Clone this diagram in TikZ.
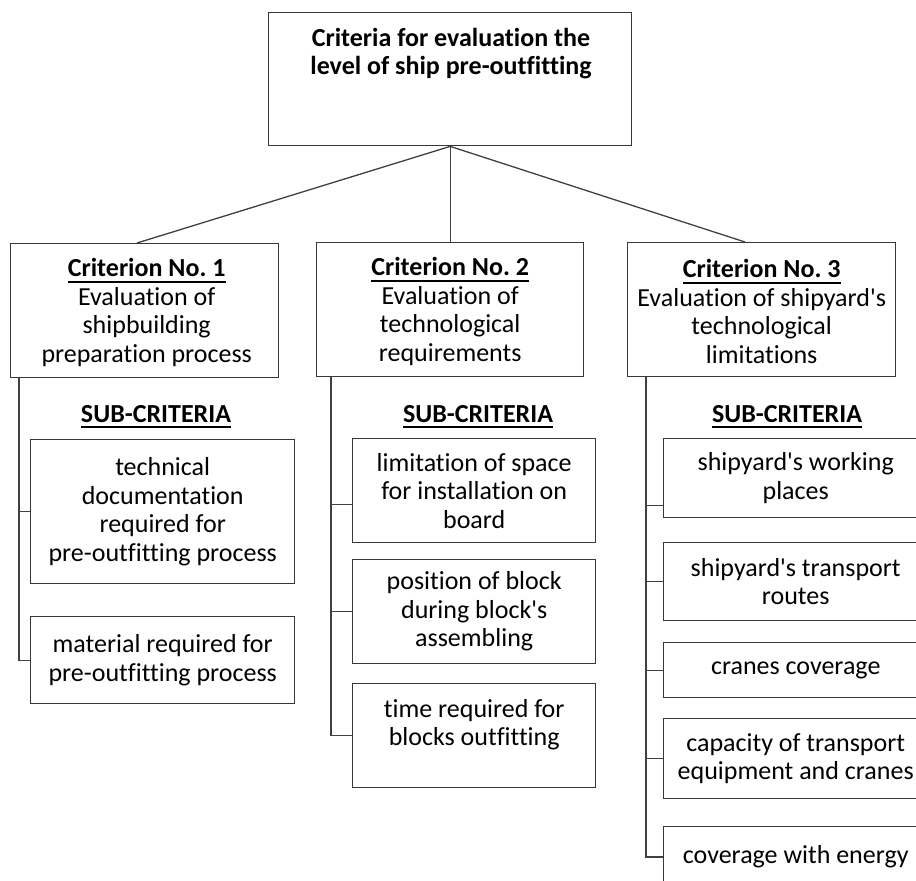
\documentclass[tikz,border=0pt]{standalone}
\usepackage{fontspec}
\setmainfont{Carlito}[Ligatures={NoCommon}, RawFeature={-liga;-clig;-dlig}]
\usetikzlibrary{calc}
\definecolor{boxcol}{HTML}{383838}
\definecolor{linecol}{HTML}{404040}
\newcommand\myul[1]{\leavevmode\vtop{\hbox{#1}\kern 4.2pt\hrule height 1.3pt}}
\newcommand\ap{\textquotesingle}
\frenchspacing
\begin{document}
\begin{tikzpicture}[x=1pt,y=-1pt,
  box/.style={draw=boxcol, line width=1.4pt, rectangle, inner sep=0pt, anchor=north west},
  txt/.style={align=center, font=\fontsize{26}{28.5}\selectfont, text=black, inner sep=0pt},
  head/.style={txt, font=\fontsize{26}{28.5}\selectfont\bfseries, anchor=base},
  conn/.style={draw=linecol, line width=1.3pt}]
\useasboundingbox (0,0) rectangle (916,881);
\clip (0,0) rectangle (916,881);
% top
\node[box, minimum width=363pt, minimum height=133pt] (top) at (268,12) {};
\node[txt, font=\fontsize{26}{28.5}\selectfont\bfseries, anchor=north] (toptxt) at (451,28) {Criteria for evaluation the\\level of ship pre-outfitting};
% criteria
\node[box, minimum width=268pt, minimum height=134pt] (c1) at (10,243) {};
\node[box, minimum width=267pt, minimum height=134pt] (c2) at (316,242) {};
\node[box, minimum width=268pt, minimum height=134pt] (c3) at (627,242) {};
\node[txt] (c1t) at ($(c1.center)+(2,2)$) {\myul{\textbf{Criterion No.\ 1}}\\Evaluation of\\shipbuilding\\preparation process};
\node[txt] (c2t) at ($(c2.center)+(0,2)$) {\myul{\textbf{Criterion No.\ 2}}\\Evaluation of\\technological\\requirements};
\node[txt] (c3t) at ($(c3.center)+(0,2)$) {\myul{\textbf{Criterion No.\ 3}}\\Evaluation of shipyard\ap s\\technological\\limitations};
% headings
\node[head] (h1) at (156,422) {\myul{SUB-CRITERIA}};
\node[head] (h2) at (478,422) {\myul{SUB-CRITERIA}};
\node[head] (h3) at (787,422) {\myul{SUB-CRITERIA}};
% column 1
\node[box, minimum width=264pt, minimum height=144pt] (s11) at (30,439) {};
\node[box, minimum width=264pt, minimum height=87pt] (s12) at (30,616) {};
\node[txt] (s11t) at (s11.center) {technical\\documentation\\required for\\pre-outfitting process};
\node[txt] (s12t) at (s12.center) {material required for\\pre-outfitting process};
% column 2
\node[box, minimum width=243pt, minimum height=104pt] (s21) at (352,438) {};
\node[box, minimum width=243pt, minimum height=104pt] (s22) at (352,559) {};
\node[box, minimum width=243pt, minimum height=104pt] (s23) at (352,683) {};
\node[txt] (s21t) at (s21.center) {limitation of space\\for installation on\\board};
\node[txt] (s22t) at (s22.center) {position of block\\during block\ap s\\assembling};
\node[txt, anchor=north] (s23t) at ($(s23.north)+(0,16)$) {time required for\\blocks outfitting};
% column 3
\node[box, minimum width=264pt, minimum height=79pt] (s31) at (663,438) {};
\node[box, minimum width=264pt, minimum height=78pt] (s32) at (663,542) {};
\node[box, minimum width=264pt, minimum height=55pt] (s33) at (663,642) {};
\node[box, minimum width=264pt, minimum height=80pt] (s34) at (663,718) {};
\node[box, minimum width=264pt, minimum height=80pt] (s35) at (663,826) {};
\node[txt] (s31t) at (s31.center) {shipyard\ap s working\\places};
\node[txt] (s32t) at (s32.center) {shipyard\ap s transport\\routes};
\node[txt] (s33t) at (s33.center) {cranes coverage};
\node[txt] (s34t) at (s34.center) {capacity of transport\\equipment and cranes};
\node[txt] (s35t) at ($(s35.north)+(0,31)$) {coverage with energy};
% connectors from top
\draw[conn] (top.south) -- ($(c1.north west)+(127,0)$);
\draw[conn] (top.south) -- (c2.north);
\draw[conn] (top.south) -- ($(c3.north west)+(118,0)$);
% trunks
\coordinate (k1) at ($(c1.south west)+(9,0)$);
\coordinate (k2) at ($(c2.south west)+(15,0)$);
\coordinate (k3) at ($(c3.south west)+(19,0)$);
\coordinate (p21) at ($(s21.south west)+(0,-39)$);
\coordinate (p31) at ($(s31.south west)+(0,-13)$);
\coordinate (p35) at ($(s35.north west)+(0,31)$);
\draw[conn] (k1) |- (s12.west);
\draw[conn] (k1 |- s11.west) -- (s11.west);
\draw[conn] (k2) |- (s23.west);
\draw[conn] (k2 |- p21) -- (p21);
\draw[conn] (k2 |- s22.west) -- (s22.west);
\draw[conn] (k3) |- (p35);
\draw[conn] (k3 |- p31) -- (p31);
\draw[conn] (k3 |- s32.west) -- (s32.west);
\draw[conn] (k3 |- s33.west) -- (s33.west);
\draw[conn] (k3 |- s34.west) -- (s34.west);
\end{tikzpicture}
\end{document}
